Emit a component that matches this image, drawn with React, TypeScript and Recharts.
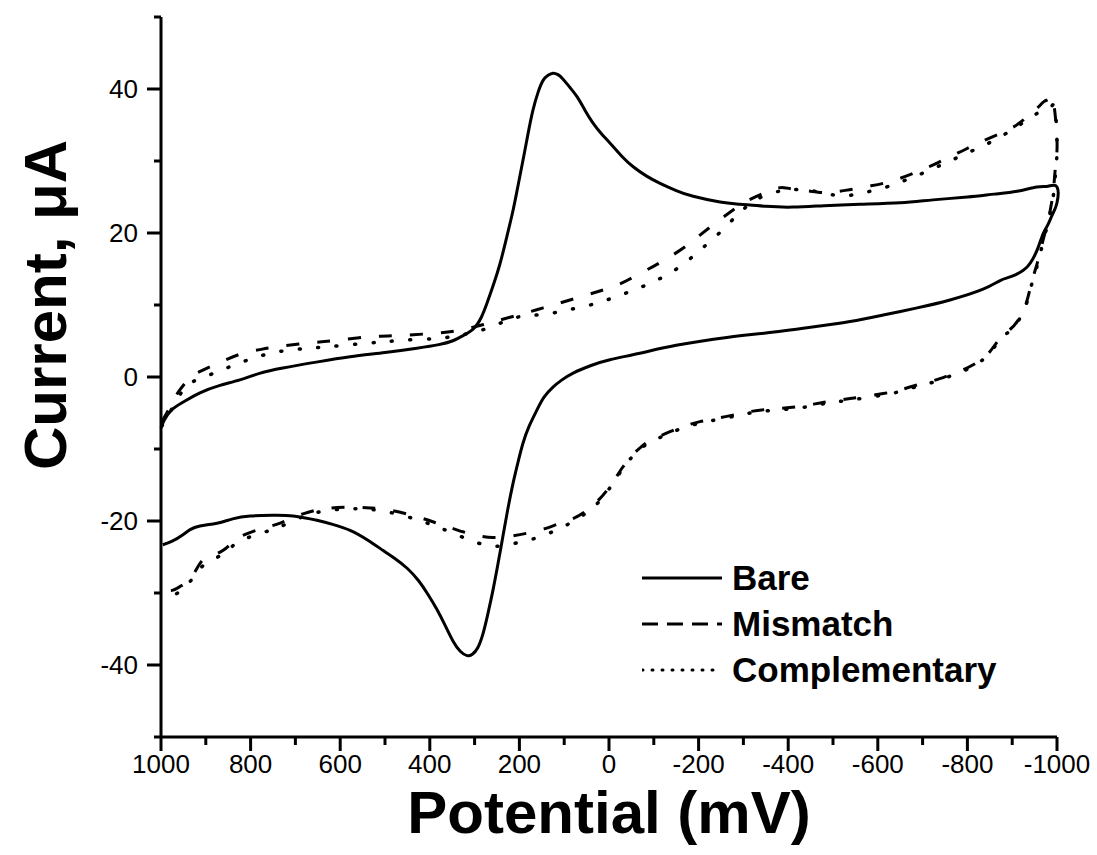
// @ts-nocheck
import React from 'react';
import { LineChart, Line, XAxis, YAxis, Legend } from 'recharts';

// potential (mV), current (µA) pairs
const bareForward = [
  [1000, -7.1], [992, -5.9], [975, -4.5], [951, -3.5], [913, -2.2], [870, -1.2], [824, -0.4],
  [780, 0.5], [728, 1.25], [650, 2.1], [578, 2.8], [500, 3.4], [429, 4.0], [380, 4.5], [350, 5.0],
  [330, 5.6], [304, 6.6], [285, 8.3], [272, 10.3], [258, 12.8], [243, 15.8], [228, 19.5],
  [214, 23.2], [203, 26.6], [192, 30.1], [181, 33.7], [170, 37], [158, 39.6], [147, 41.2],
  [136, 41.9], [125, 42.2], [114, 42], [103, 41.4], [87, 40.2], [71, 38.9], [54, 37.1],
  [36, 35.3], [17, 33.8], [-2, 32.5], [-28, 30.7], [-54, 29.2], [-84, 27.9], [-114, 26.9],
  [-150, 25.9], [-188, 25.1], [-248, 24.3], [-292, 24.0], [-350, 23.7], [-411, 23.6],
  [-480, 23.8], [-560, 24.0], [-650, 24.2], [-723, 24.6], [-800, 25.0], [-860, 25.4],
  [-911, 25.8], [-955, 26.4], [-980, 26.5], [-1000, 26.4],
];
const bareReverse = [
  [-1000, 24.2], [-990, 22.6], [-980, 21.2], [-969, 19.9], [-958, 18.0], [-946, 16.4],
  [-935, 15.4], [-924, 14.8], [-900, 14.0], [-873, 13.4], [-835, 12.2], [-761, 10.7],
  [-688, 9.6], [-612, 8.6], [-538, 7.7], [-450, 6.9], [-350, 6.1], [-263, 5.5], [-150, 4.4],
  [-69, 3.3], [-2, 2.4], [40, 1.6], [80, 0.55], [105, -0.4], [125, -1.4], [145, -2.8],
  [161, -4.6], [178, -6.8], [192, -9.2], [203, -11.8], [214, -14.7], [226, -18.4], [237, -22.2],
  [248, -26], [259, -29.6], [270, -32.8], [281, -35.6], [293, -37.6], [305, -38.5], [317, -38.7],
  [332, -38.1], [348, -36.7], [365, -34.6], [384, -32.3], [404, -30.2], [425, -28.3],
  [450, -26.6], [478, -25.2], [504, -24.1], [540, -22.6], [578, -21.3], [615, -20.5],
  [652, -19.9], [705, -19.3], [750, -19.2], [801, -19.3], [840, -19.7], [875, -20.3],
  [913, -20.7], [935, -21.2], [951, -21.9], [975, -22.8], [996, -23.3],
];

const mismatchForward = [
  [998, -6.2], [990, -5.3], [980, -4.2], [970, -3.0], [958, -1.8], [935, -0.1], [915, 0.7],
  [891, 1.4], [855, 2.4], [817, 3.3], [780, 3.8], [741, 4.2], [674, 4.7], [607, 5.1], [533, 5.6],
  [460, 5.8], [384, 6.1], [333, 6.5], [280, 7.3], [221, 8.3], [147, 9.6], [71, 11], [-2, 12.4],
  [-40, 13.4], [-76, 14.6], [-106, 15.6], [-136, 16.7], [-170, 18.1], [-203, 19.7], [-240, 21.5],
  [-277, 23.2], [-307, 24.4], [-337, 25.3], [-366, 26.1], [-390, 26.3], [-411, 26.1],
  [-450, 25.8], [-487, 25.6], [-515, 25.8], [-545, 26.1], [-580, 26.5], [-612, 26.9],
  [-650, 27.6], [-688, 28.5], [-725, 29.5], [-761, 30.6], [-795, 31.6], [-828, 32.6],
  [-865, 33.6], [-902, 34.7], [-925, 35.7], [-946, 36.8], [-960, 37.6], [-972, 38.3],
  [-984, 38.7], [-992, 38.3],
];
const mismatchReverse = [
  [-1000, 33], [-997, 29.5], [-992, 26], [-985, 23.2], [-978, 21.2], [-966, 18.3], [-955, 15.6],
  [-944, 13.3], [-933, 10.6], [-922, 9.0], [-911, 7.7], [-895, 6.6], [-873, 5.4], [-850, 3.5],
  [-830, 2.4], [-813, 1.7], [-790, 1.0], [-761, 0.3], [-725, -0.5], [-688, -1.1], [-650, -1.8],
  [-612, -2.3], [-538, -3.0], [-480, -3.5], [-426, -4.1], [-370, -4.4], [-315, -4.8],
  [-260, -5.5], [-203, -6.2], [-160, -7.0], [-136, -7.6], [-110, -8.3], [-92, -8.8],
  [-70, -9.8], [-50, -11.0], [-31, -12.5], [-14, -14.1], [4, -15.7], [25, -17.2], [49, -18.5],
  [78, -19.6], [109, -20.3], [145, -21.1], [183, -21.7], [220, -22.1], [259, -22.3],
  [295, -22.0], [326, -21.5], [355, -20.9], [384, -20.3], [429, -19.4], [489, -18.5],
  [530, -18.2], [563, -18.1], [623, -18.2], [683, -19], [734, -20.3], [772, -21], [824, -22.2],
  [845, -23.2], [862, -24.1], [885, -24.8], [906, -25.4], [920, -26.6], [935, -28.0],
  [955, -29.0], [973, -29.6], [985, -29.6],
];

const compForward = [
  [998, -6.8], [990, -6.0], [980, -4.9], [965, -3.2], [945, -1.4], [920, -0.4], [875, 0.7],
  [835, 1.7], [795, 2.6], [755, 3.3], [712, 3.75], [670, 4.0], [629, 4.2], [585, 4.45],
  [540, 4.7], [500, 4.9], [460, 5.1], [415, 5.25], [373, 5.4], [335, 5.8], [295, 6.3],
  [250, 7.3], [205, 8.3], [165, 8.6], [125, 8.9], [85, 9.4], [42, 10], [0, 10.8], [-40, 11.7],
  [-80, 12.7], [-121, 13.9], [-162, 15.5], [-203, 17.6], [-248, 20.1], [-286, 22.5],
  [-310, 23.8], [-340, 25.0], [-380, 25.8], [-410, 26.0], [-442, 26.0], [-480, 25.5],
  [-522, 25.2], [-555, 25.4], [-590, 25.9], [-625, 26.5], [-660, 27.3], [-700, 28.3],
  [-740, 29.4], [-775, 30.4], [-810, 31.4], [-845, 32.4], [-880, 33.6], [-905, 34.5],
  [-930, 35.6], [-950, 36.4], [-965, 37.0], [-978, 37.4], [-988, 37.6], [-996, 37.2],
];
const compReverse = [
  [-1000, 32], [-997, 28.5], [-992, 25.3], [-985, 22.8], [-977, 20.7], [-966, 18.0],
  [-955, 15.3], [-944, 13.0], [-933, 10.4], [-922, 8.8], [-911, 7.5], [-895, 6.4], [-873, 5.2],
  [-850, 3.3], [-830, 2.2], [-813, 1.5], [-790, 0.8], [-761, 0.1], [-725, -0.7], [-688, -1.3],
  [-650, -2.0], [-612, -2.5], [-538, -3.2], [-480, -3.7], [-426, -4.3], [-370, -4.6],
  [-315, -5.0], [-260, -5.7], [-203, -6.4], [-160, -7.2], [-136, -7.8], [-110, -8.5],
  [-92, -9.0], [-70, -10.0], [-50, -11.2], [-31, -12.7], [-14, -14.3], [4, -15.9], [25, -17.5],
  [49, -18.8], [87, -20.3], [130, -21.6], [170, -22.5], [210, -23.1], [250, -23.5], [295, -23.0],
  [340, -21.9], [384, -20.8], [429, -19.8], [489, -18.8], [530, -18.4], [563, -18.3],
  [623, -18.5], [683, -19.4], [734, -20.8], [772, -21.6], [824, -22.8], [845, -23.8],
  [862, -24.6], [885, -25.4], [906, -26.2], [920, -27.2], [935, -28.4], [955, -29.6],
  [970, -30.3], [980, -30.7],
];

const xTicks = [1000, 900, 800, 700, 600, 500, 400, 300, 200, 100, 0, -100, -200, -300, -400, -500, -600, -700, -800, -900, -1000];
const yTicks = [-50, -40, -30, -20, -10, 0, 10, 20, 30, 40, 50];

const FONT = '"Liberation Sans", Arial, sans-serif';
const TITLE = { fontFamily: FONT, fontWeight: 'bold', fontSize: 60, fill: '#000' };

const toRows = (pairs) => pairs.map(([e, i]) => ({ e, i }));
const bareData = toRows([...bareForward, ...bareReverse]);
const mismatchData = toRows([...mismatchForward, ...mismatchReverse]);
const compData = toRows([...compForward, ...compReverse]);

const XTick = ({ x, y, payload }) => {
  const major = payload.value % 200 === 0;
  return (
    <g>
      <line x1={x} x2={x} y1={y} y2={y + (major ? 14 : 8)} stroke="#000" strokeWidth={3} />
      {major && (
        <text x={x} y={y + 36} textAnchor="middle" fontSize={26} fontFamily={FONT} fill="#000">
          {payload.value}
        </text>
      )}
    </g>
  );
};

const YTick = ({ x, y, payload }) => {
  const major = payload.value % 20 === 0;
  return (
    <g>
      <line x1={x - (major ? 14 : 7)} x2={x} y1={y} y2={y} stroke="#000" strokeWidth={3} />
      {major && (
        <text x={x - 23} y={y} dy="0.36em" textAnchor="end" fontSize={26} fontFamily={FONT} fill="#000">
          {payload.value}
        </text>
      )}
    </g>
  );
};

// y title sits a bit above the middle of the axis, as in the original
const YTitle = ({ viewBox }) => {
  const cx = viewBox.x + 44;
  const cy = viewBox.y + viewBox.height * 0.4;
  return (
    <text x={cx} y={cy} dy="0.36em" textAnchor="middle" transform={`rotate(-90 ${cx} ${cy})`} style={TITLE}>
      Current, μA
    </text>
  );
};

const legendItems = [
  { name: 'Bare', dash: undefined },
  { name: 'Mismatch', dash: '16 9' },
  { name: 'Complementary', dash: '1 9' },
];

const LegendBox = () => (
  <div style={{ fontFamily: FONT, fontWeight: 'bold', fontSize: 35, color: '#000' }}>
    {legendItems.map((it) => (
      <div key={it.name} style={{ display: 'flex', alignItems: 'center', height: 46 }}>
        <svg width={80} height={10} style={{ marginRight: 10 }}>
          <line x1={0} x2={80} y1={5} y2={5} stroke="#000" strokeWidth={3}
            strokeDasharray={it.dash} strokeLinecap={it.dash === '1 9' ? 'round' : 'butt'} />
        </svg>
        <span>{it.name}</span>
      </div>
    ))}
  </div>
);

export default function App() {
  return (
    <div style={{ width: 1097, height: 855, background: '#fff' }}>
      <style>{`body { margin: 0; }`}</style>
      <LineChart width={1097} height={855} margin={{ top: 17, right: 40, bottom: 0, left: 0 }}>
        <XAxis
          type="number"
          dataKey="e"
          domain={[-1000, 1000]}
          reversed
          ticks={xTicks}
          interval={0}
          height={118}
          tickLine={false}
          tickSize={0}
          tickMargin={0}
          axisLine={{ stroke: '#000', strokeWidth: 3 }}
          tick={(p) => <XTick {...p} />}
          label={{ value: 'Potential (mV)', position: 'insideBottom', offset: 22, style: TITLE }}
        />
        <YAxis
          type="number"
          domain={[-50, 50]}
          ticks={yTicks}
          interval={0}
          width={161}
          tickLine={false}
          tickSize={0}
          tickMargin={0}
          axisLine={{ stroke: '#000', strokeWidth: 3 }}
          tick={(p) => <YTick {...p} />}
          label={{ content: (p) => <YTitle {...p} /> }}
        />
        <Legend
          layout="vertical"
          align="center"
          verticalAlign="middle"
          content={() => <LegendBox />}
          wrapperStyle={{ left: 642, top: 555, width: 420 }}
        />
        <Line data={bareData} dataKey="i" type="natural" stroke="#000" strokeWidth={3}
          dot={false} activeDot={false} isAnimationActive={false} />
        <Line data={mismatchData} dataKey="i" type="natural" stroke="#000" strokeWidth={3}
          strokeDasharray="13 18" dot={false} activeDot={false} isAnimationActive={false} />
        <Line data={compData} dataKey="i" type="natural" stroke="#000" strokeWidth={3.5}
          strokeDasharray="1 17.5" strokeLinecap="round" dot={false} activeDot={false} isAnimationActive={false} />
      </LineChart>
    </div>
  );
}
